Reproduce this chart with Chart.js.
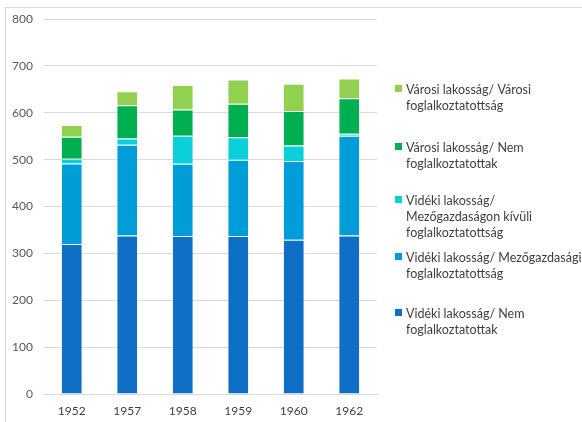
<!DOCTYPE html>
<html>
<head>
<meta charset="utf-8">
<script src="https://cdn.jsdelivr.net/npm/chart.js@4/dist/chart.umd.min.js"></script>
<style>
    body { margin: 0; background: #fff; }
    canvas { display: block; }
</style>
</head>
<body>
<canvas id="chart" width="582" height="422"></canvas>
<script>
const years = ['1952', '1957', '1958', '1959', '1960', '1962'];

// stacked from the bottom up
const videkiNem = [320, 338, 337, 337, 329, 338];
const videkiMezo = [172, 194, 154, 163, 168, 213];
const videkiNemMezo = [10, 13, 60, 48, 33, 4];
const varosiNem = [47, 71, 56, 71, 74, 76];
const varosiVarosi = [25, 30, 52, 52, 58, 42];

const seriesNames = [
    'Vidéki lakosság/ Nem\nfoglalkoztatottak',
    'Vidéki lakosság/ Mezőgazdasági\nfoglalkoztatottság',
    'Vidéki lakosság/\nMezőgazdaságon kívüli\nfoglalkoztatottság',
    'Városi lakosság/ Nem\nfoglalkoztatottak',
    'Városi lakosság/ Városi\nfoglalkoztatottság'
];
const seriesColors = ['#0f6fc6', '#009dd9', '#0bd0d9', '#00b050', '#92d050'];

const yTicks = [0, 100, 200, 300, 400, 500, 600, 700, 800];

const FONT = 'Lato, "Liberation Sans", sans-serif';

// outer frame of the chart, only top and left edge are in the picture
const framePlugin = {
    id: 'frame',
    beforeDraw(chart) {
        const ctx = chart.ctx;
        ctx.save();
        ctx.strokeStyle = '#d9d9d9';
        ctx.lineWidth = 1;
        ctx.strokeRect(5.5, 7.5, 700, 700);
        ctx.restore();
    }
};

// legend on the right, entries in reverse order, text wrapped as in Excel
const sideLegend = {
    id: 'sideLegend',
    afterDraw(chart) {
        const ctx = chart.ctx;
        const firstLines = [94, 152, 205, 262, 318];
        const lineHeight = 16;
        const sets = chart.data.datasets.slice().reverse();
        ctx.save();
        ctx.font = '12.5px ' + FONT;
        ctx.textBaseline = 'alphabetic';
        ctx.textAlign = 'left';
        sets.forEach((ds, i) => {
            const base = firstLines[i];
            ctx.fillStyle = ds.backgroundColor;
            ctx.fillRect(395, base - 9, 7, 7);
            ctx.fillStyle = '#404040';
            ds.label.split('\n').forEach((line, j) => {
                ctx.fillText(line, 406, base + j * lineHeight);
            });
        });
        ctx.restore();
    }
};

const datasets = [videkiNem, videkiMezo, videkiNemMezo, varosiNem, varosiVarosi].map((values, i) => ({
    label: seriesNames[i],
    data: values,
    backgroundColor: seriesColors[i],
    borderColor: 'rgba(255, 255, 255, 0.25)',
    borderWidth: 1,
    barPercentage: 0.39,
    categoryPercentage: 1
}));

new Chart(document.getElementById('chart'), {
    type: 'bar',
    data: { labels: years, datasets: datasets },
    options: {
        responsive: false,
        animation: false,
        layout: { padding: { top: 19, right: 205, bottom: 0, left: 0 } },
        plugins: {
            legend: { display: false },
            tooltip: { enabled: false }
        },
        scales: {
            x: {
                stacked: true,
                grid: { display: false, drawTicks: false },
                border: { color: '#d9d9d9' },
                ticks: { color: '#404040', font: { family: FONT, size: 12 }, padding: 10 },
                afterFit(scale) { scale.height = 28; }
            },
            y: {
                stacked: true,
                min: 0,
                max: 800,
                afterBuildTicks(scale) { scale.ticks = yTicks.map(v => ({ value: v })); },
                grid: { color: '#d9d9d9', drawTicks: false },
                border: { display: false },
                ticks: { color: '#595959', font: { family: FONT, size: 12 }, padding: 11 },
                afterFit(scale) { scale.width = 44; }
            }
        }
    },
    plugins: [framePlugin, sideLegend]
});
</script>
</body>
</html>
